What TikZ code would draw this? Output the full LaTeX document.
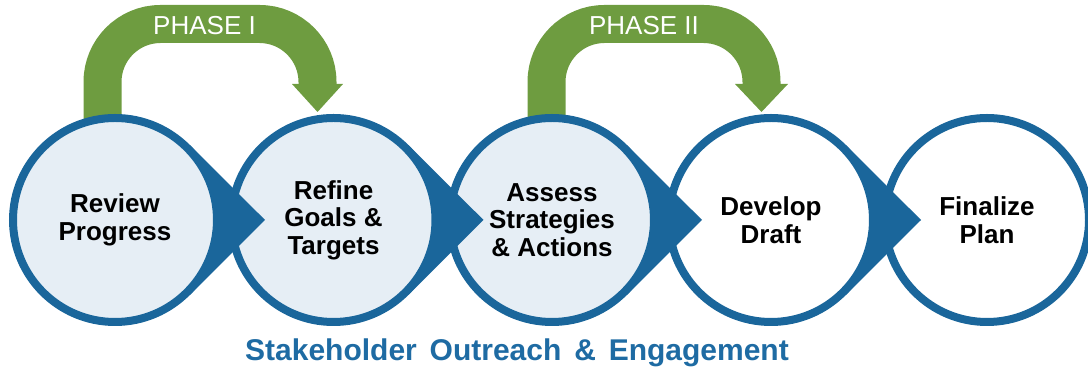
\documentclass[tikz,border=0pt]{standalone}
\usepackage{fontspec}
\setmainfont{Liberation Sans}
\usetikzlibrary{calc}
\definecolor{ringblue}{HTML}{1A669B}
\definecolor{lightfill}{HTML}{E6EEF5}
\definecolor{phasegreen}{HTML}{6E9C40}
\definecolor{textblue}{HTML}{1E6BA3}
\pgfdeclarelayer{background}
\pgfsetlayers{background,main}
\begin{document}
\begin{tikzpicture}[x=1pt,y=1pt,
  stagecircle/.style={circle, draw=ringblue, line width=8pt, minimum size=204pt,
    inner sep=0pt, outer sep=0pt, align=center, text=black,
    font=\fontsize{26}{27.5}\selectfont\bfseries},
  litstage/.style={stagecircle, fill=lightfill},
  plainstage/.style={stagecircle, fill=white},
  wedge/.style={fill=ringblue},
  phasearrow/.style={draw=phasegreen, line width=38pt, rounded corners=58pt},
  phasehead/.style={fill=phasegreen},
  phaselabel/.style={text=white, anchor=base, font=\fontsize{26}{28}\selectfont},
  outreach/.style={text=textblue, anchor=base, font=\fontsize{30}{32}\selectfont\bfseries}
]
\useasboundingbox (0,0) rectangle (1088,371);

% stages
\node[litstage]   (c1) at (115,151)   {Review\\Progress};
\node[litstage]   (c2) at (333.5,151) {Refine\\Goals \&\\Targets};
\node[litstage]   (c3) at (552,151)   {Assess\\Strategies\\\& Actions};
\node[plainstage] (c4) at (771,151)   {Develop\\Draft};
\node[plainstage] (c5) at (987,151)   {Finalize\\Plan};

% pointed connectors between stages
\foreach \a/\b in {c1/c2, c2/c3, c3/c4, c4/c5}{
  \coordinate (tip-\a) at ($(\a.center)+(150,0)$);
  \fill[wedge] ($(\a.center)+(45:106)$) -- (tip-\a) -- ($(\a.center)+(-45:106)$)
     -- ($(\a.center)+(-45:100)$) arc[start angle=-45, end angle=45, radius=100] -- cycle;
}

% phase arrows
\begin{pgfonlayer}{background}
  \draw[phasearrow] ($(c1.center)+(-12.5,100)$) -- ($(c1.center)+(-12.5,196)$)
     -- ($(c2.center)+(-16,196)$) -- ($(c2.center)+(-16,135)$);
  \fill[phasehead] ($(c2.center)+(-41.5,136)$) -- ($(c2.center)+(9.5,136)$)
     -- ($(c2.center)+(-16,108)$) -- cycle;
  \draw[phasearrow] ($(c3.center)+(-5.5,100)$) -- ($(c3.center)+(-5.5,196)$)
     -- ($(c4.center)+(-9.5,196)$) -- ($(c4.center)+(-9.5,135)$);
  \fill[phasehead] ($(c4.center)+(-36,136)$) -- ($(c4.center)+(17,136)$)
     -- ($(c4.center)+(-9.5,108)$) -- cycle;
\end{pgfonlayer}

\node[phaselabel] (ph1) at (204.5,336) {PHASE I};
\node[phaselabel] (ph2) at (644,336) {PHASE II};

\node[outreach] (out) at (517,10) {Stakeholder\hspace{4.5pt} Outreach\hspace{4.5pt} \&\hspace{4.5pt} Engagement};
\end{tikzpicture}
\end{document}
